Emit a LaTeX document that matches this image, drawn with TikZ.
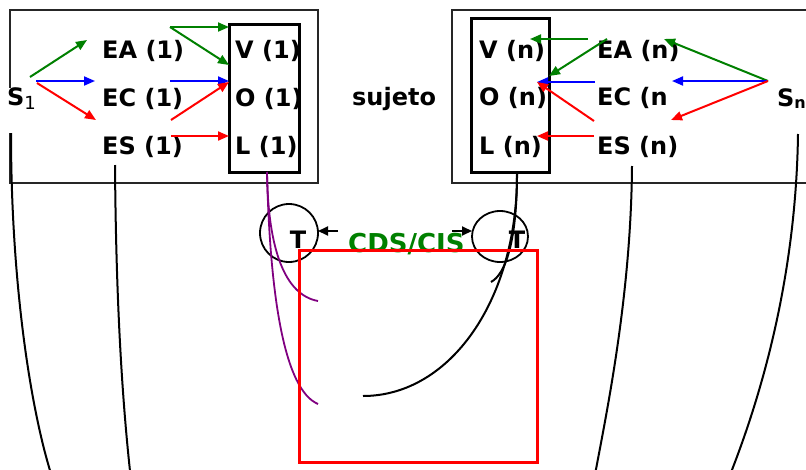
\documentclass[tikz,border=0pt]{standalone}
\usepackage{fontspec}
\setmainfont{DejaVu Sans}
\usetikzlibrary{arrows.meta,shapes.geometric}
\definecolor{dgreen}{RGB}{0,128,0}
\definecolor{dblue}{RGB}{0,0,255}
\definecolor{dred}{RGB}{255,0,0}
\definecolor{purp}{RGB}{128,0,128}
\begin{document}
\begin{tikzpicture}[x=1pt,y=-1pt,
  lbl/.style={anchor=base west,inner sep=0pt,font=\fontsize{24}{28}\selectfont\bfseries},
  arr/.style={line width=2pt,-{Triangle[length=11pt,width=9pt]}},
  frame/.style={draw=black!85,line width=1.8pt},
  inbox/.style={draw=black,line width=3pt},
  curve/.style={line width=2pt},
  pcurve/.style={draw=purp,line width=1.8pt},
  ring/.style={draw=black,line width=1.8pt,ellipse,inner sep=0pt}]

\clip (0,0) rectangle (806,469);
\fill[white] (0,0) rectangle (806,469);

% frames of the two subjects and their V/O/L columns
\coordinate (lfa) at (10,10);   \coordinate (lfb) at (318,183);
\coordinate (rfa) at (452,10);  \coordinate (rfb) at (830,183);
\coordinate (lia) at (229,24);  \coordinate (lib) at (299,172);
\coordinate (ria) at (471,18);  \coordinate (rib) at (549,172);
\draw[frame] (lfa) rectangle (lfb);
\draw[frame] (rfa) rectangle (rfb);
\draw[inbox] (lia) rectangle (lib);
\draw[inbox] (ria) rectangle (rib);

% labels, subject 1
\node[lbl,fill=white,anchor=north west,text height=17pt,text depth=28pt,inner xsep=1pt] (s1) at (6,88)
  {S\raisebox{-4pt}{\fontsize{18}{18}\mdseries\selectfont 1}};
\node[lbl] (ea1) at (102,58) {EA (1)};
\node[lbl] (ec1) at (102,106) {EC (1)};
\node[lbl] (es1) at (102,154) {ES (1)};
\node[lbl] (v1) at (235,58) {V (1)};
\node[lbl] (o1) at (235,106) {O (1)};
\node[lbl] (l1) at (235,154) {L (1)};
\node[lbl] (suj) at (352,105) {sujeto};
% labels, subject n
\node[lbl] (vn) at (479,58) {V (n)};
\node[lbl] (on) at (479,105) {O (n)};
\node[lbl] (ln) at (479,154) {L (n)};
\node[lbl] (ean) at (597,58) {EA (n)};
\node[lbl] (ecn) at (597,105) {EC (n};
\node[lbl] (esn) at (597,154) {ES (n)};
\node[lbl] (sn) at (777,106)
  {S\raisebox{-2pt}{\fontsize{16}{16}\selectfont n}};

% arrows, subject 1
\coordinate (a1) at (30,77);  \coordinate (a1e) at (87,40);
\coordinate (a2) at (36,81);  \coordinate (a2e) at (95,81);
\coordinate (a3) at (37,83);  \coordinate (a3e) at (96,120);
\coordinate (a4) at (170,27); \coordinate (a4e) at (229,27);
\coordinate (a5e) at (229,65);
\coordinate (a6) at (170,81); \coordinate (a6e) at (229,81);
\coordinate (a7) at (171,120);\coordinate (a7e) at (229,82);
\coordinate (a8) at (171,136);\coordinate (a8e) at (229,136);
\draw[arr,dgreen] (a1) -- (a1e);
\draw[arr,dblue]  (a2) -- (a2e);
\draw[arr,dred]   (a3) -- (a3e);
\draw[arr,dgreen] (a4) -- (a4e);
\draw[arr,dgreen] (a4) -- (a5e);
\draw[arr,dblue]  (a6) -- (a6e);
\draw[arr,dred]   (a7) -- (a7e);
\draw[arr,dred]   (a8) -- (a8e);

% arrows, subject n
\coordinate (b1) at (588,39);  \coordinate (b1e) at (530,39);
\coordinate (b2) at (607,39);  \coordinate (b2e) at (549,76);
\coordinate (b3) at (595,82);  \coordinate (b3e) at (537,82);
\coordinate (b4) at (594,121); \coordinate (b4e) at (537,82);
\coordinate (b5) at (594,136); \coordinate (b5e) at (537,136);
\coordinate (bs) at (768,81);
\coordinate (b6e) at (664,39); \coordinate (b7e) at (672,81); \coordinate (b8e) at (671,120);
\draw[arr,dgreen] (b1) -- (b1e);
\draw[arr,dgreen] (b2) -- (b2e);
\draw[arr,dblue]  (b3) -- (b3e);
\draw[arr,dred]   (b4) -- (b4e);
\draw[arr,dred]   (b5) -- (b5e);
\draw[arr,dgreen] (bs) -- (b6e);
\draw[arr,dblue]  (bs) -- (b7e);
\draw[arr,dred]   (bs) -- (b8e);

% long arcs running down from each column
\coordinate (k1) at (11,133);  \coordinate (k1e) at (53,480);
\coordinate (k2) at (115,165); \coordinate (k2e) at (131,480);
\coordinate (k3) at (632,166); \coordinate (k3e) at (594,480);
\coordinate (k4) at (798,134); \coordinate (k4e) at (728,480);
\draw[curve] (k1) .. controls (11,280) and (30,410) .. (k1e);
\draw[curve] (k2) .. controls (116,300) and (122,400) .. (k2e);
\draw[curve] (k3) .. controls (631,300) and (605,420) .. (k3e);
\draw[curve] (k4) .. controls (796,280) and (760,400) .. (k4e);

% T rings and the CDS/CIS link
\node[ring,minimum width=58pt,minimum height=58pt] (c1) at (289,233) {};
\node[ring,minimum width=56pt,minimum height=51pt] (c2) at (500,236.5) {};
\node[lbl,anchor=base] (t1) at (298,248) {T};
\node[lbl,anchor=base] (t2) at (517,248) {T};
\node[lbl,text=dgreen,font=\fontsize{26}{30}\selectfont\bfseries] (cds) at (348,252) {CDS/CIS};
\coordinate (m1) at (338,231); \coordinate (m1e) at (318,231);
\coordinate (m2) at (452,231); \coordinate (m2e) at (472,231);
\draw[line width=2pt,-{Triangle[length=10pt,width=9pt]}] (m1) -- (m1e);
\draw[line width=2pt,-{Triangle[length=10pt,width=9pt]}] (m2) -- (m2e);

% threads from the L columns
\coordinate (p0) at (267,172);
\coordinate (p1) at (318,301); \coordinate (p2) at (318,404);
\draw[pcurve] (p0) .. controls (268,250) and (285,295) .. (p1);
\draw[pcurve] (p0) .. controls (270,300) and (285,390) .. (p2);
\coordinate (q0) at (517,172);
\coordinate (q1) at (491,282); \coordinate (q2) at (363,396);
\draw[curve] (q0) .. controls (517,240) and (506,274) .. (q1);
\draw[curve] (q0) .. controls (518,300) and (450,396) .. (q2);

% red panel
\node[draw=dred,line width=3pt,minimum width=238pt,minimum height=212pt,anchor=north west,inner sep=0pt] (panel) at (298,249) {};
\end{tikzpicture}
\end{document}
